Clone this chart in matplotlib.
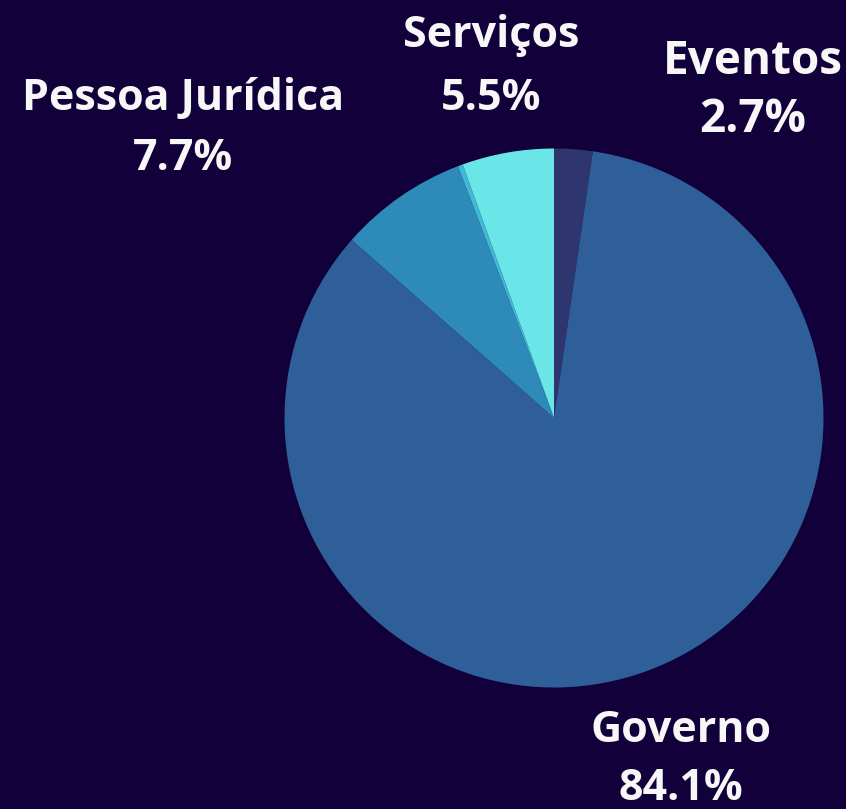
import matplotlib.pyplot as plt

categories = ['Eventos', 'Governo', 'Pessoa Jurídica', 'Outros', 'Serviços']
values = [2.3, 84.1, 7.7, 0.3, 5.5]
pct_labels = ['2.7%', '84.1%', '7.7%', '', '5.5%']
colors = ['#2f356e', '#2f5f99', '#2e8ab8', '#3fb9d6', '#6ae6e9']

# label positions in pixel space (y up): x, name y, percent y, font size
label_pos = {
    'Eventos': (753, 748, 690, 33),
    'Governo': (681, 78, 20, 31),
    'Pessoa Jurídica': (183, 711, 651, 31),
    'Serviços': (491, 774, 711, 31),
}

bg = '#11003a'
fig = plt.figure(figsize=(8.46, 8.09), dpi=100, facecolor=bg)
ax = fig.add_axes([0, 0, 1, 1])
ax.set_facecolor(bg)

ax.pie(values, colors=colors, startangle=90, counterclock=False,
       center=(554, 391), radius=269.5, frame=True,
       wedgeprops=dict(linewidth=0))
ax.set_xlim(0, 846)
ax.set_ylim(0, 809)
ax.axis('off')

for cat, pct in zip(categories, pct_labels):
    if cat not in label_pos:
        continue
    x, y1, y2, fs = label_pos[cat]
    ax.text(x, y1, cat, ha='center', va='center', color='#f7f7f7',
            fontsize=fs, fontweight='bold', family='Open Sans')
    ax.text(x, y2, pct, ha='center', va='center', color='#f7f7f7',
            fontsize=fs, fontweight='bold', family='Open Sans')

fig.savefig('out.png', dpi=100, facecolor=bg)
